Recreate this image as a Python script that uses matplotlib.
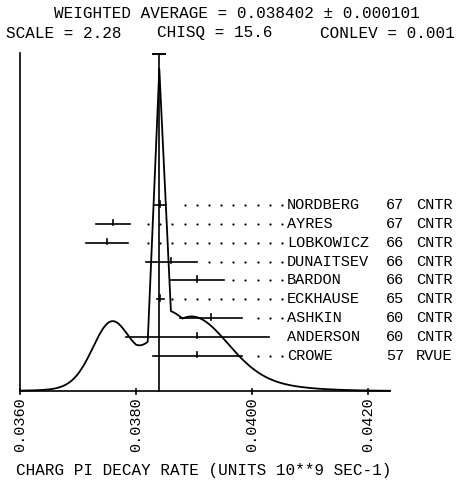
import numpy as np
import matplotlib.pyplot as plt

# Measurements of the charged pion decay rate (units 10**9 s^-1)
names = ['NORDBERG', 'AYRES', 'LOBKOWICZ', 'DUNAITSEV', 'BARDON',
         'ECKHAUSE', 'ASHKIN', 'ANDERSON', 'CROWE']
years = ['67', '67', '66', '66', '66', '65', '60', '60', '57']
techniques = ['CNTR', 'CNTR', 'CNTR', 'CNTR', 'CNTR', 'CNTR', 'CNTR', 'CNTR', 'RVUE']
values = [0.03842, 0.03760, 0.03750, 0.03861, 0.03905,
          0.03842, 0.03929, 0.03906, 0.03906]
errors = [0.00009, 0.00029, 0.00036, 0.00044, 0.00047,
          0.00006, 0.00053, 0.00123, 0.00077]

avg = 0.038402
avg_err = 0.000101
scale_factor = 2.28
chisq = 15.6
conlev = 0.001
tick_values = [0.0360, 0.0380, 0.0400, 0.0420]

# layout: horizontal pixel scale of the plotter frame
PX_PER_UNIT = 58000.0
X_ORIGIN_PX = 20.0


def px(x):
    return tick_values[0] + (x - X_ORIGIN_PX) / PX_PER_UNIT


W, H = 474, 480
BASE_PX = 391
fig = plt.figure(figsize=(W / 100, H / 100), dpi=100)
ax = fig.add_axes([0, 0, 1, 1])
ax.set_xlim(px(0), px(W))
ax.set_ylim(BASE_PX - H, BASE_PX)   # y in pixels above the baseline
ax.axis('off')

font = dict(family=['Liberation Mono', 'DejaVu Sans Mono'], color='black')
lw = 1.2

# ideogram: one unit-area gaussian per measurement.
# broad ones are drawn smooth, narrow ones (error < step) are sampled
# every `step` around the average and joined by straight segments
step = 0.0002
x_end = px(390)
k = np.arange(np.ceil((tick_values[0] - avg) / step), np.floor((x_end - avg) / step) + 1)
coarse = avg + k * step
fine = np.union1d(np.linspace(tick_values[0], x_end, 900), coarse)


def gauss(x, v, e):
    return np.exp(-0.5 * ((x - v) / e) ** 2) / e


curve = np.zeros_like(fine)
for v, e in zip(values, errors):
    if e < step:
        curve += np.interp(fine, coarse, gauss(coarse, v, e))
    else:
        curve += gauss(fine, v, e)
curve = curve / curve.max() * 322
ax.plot(fine, curve, color='black', lw=1.3)

# base axis with ticks, left frame line
ax.plot([tick_values[0], x_end], [0, 0], color='black', lw=lw)
ax.plot([tick_values[0], tick_values[0]], [0, 338], color='black', lw=lw)
for t in tick_values:
    ax.plot([t, t], [-2.5, 2.5], color='black', lw=lw)
    ax.text(t, -6, f'{t:.4f}', rotation=90, ha='center', va='top',
            fontsize=11, **font)

# weighted average line with its error cap
ax.plot([avg, avg], [0, 337], color='black', lw=lw)
ax.plot([avg - avg_err, avg + avg_err], [337, 337], color='black', lw=1.4)

# measurement rows
row0, row_step = 391 - 205, 18.85
name_x = px(287)
dot_last = px(282)
dot_step = 0.00021
for i, (n, yr, tq, v, e) in enumerate(zip(names, years, techniques, values, errors)):
    y = row0 - i * row_step
    ax.plot([v - e, v + e], [y, y], color='black', lw=lw)
    ax.plot([v, v], [y - 1.5, y + 4], color='black', lw=lw)
    # dotted leader to the label, skipped when the bar nearly reaches it
    if dot_last - (v + e) > 0.0003:
        dx = dot_last - np.arange(0, 40) * dot_step
        dx = dx[dx > v + e + 0.00014]
        ax.plot(dx, np.full(dx.size, y), 'o', color='black', ms=1.6, mew=0)
    ax.text(name_x, y, n, ha='left', va='center', fontsize=11, **font)
    ax.text(px(386), y, yr, ha='left', va='center', fontsize=11, **font)
    ax.text(px(416), y, tq, ha='left', va='center', fontsize=11, **font)

# header and axis title
fig.text(236.5 / W, 1 - 14 / H, f'WEIGHTED AVERAGE = {avg:.6f} \u00b1 {avg_err:.6f}',
         ha='center', va='center', fontsize=11.5, **font)
fig.text(6 / W, 1 - 33 / H, f'SCALE = {scale_factor:.2f}', ha='left', va='center',
         fontsize=11.5, **font)
fig.text(157 / W, 1 - 33 / H, f'CHISQ = {chisq:.1f}', ha='left', va='center',
         fontsize=11.5, **font)
fig.text(320 / W, 1 - 33 / H, f'CONLEV = {conlev:.3f}', ha='left', va='center',
         fontsize=11.5, **font)
fig.text(16 / W, 1 - 470 / H, 'CHARG PI DECAY RATE (UNITS 10**9 SEC-1)',
         ha='left', va='center', fontsize=11.5, **font)

fig.savefig('out.png', dpi=100, facecolor='white')
